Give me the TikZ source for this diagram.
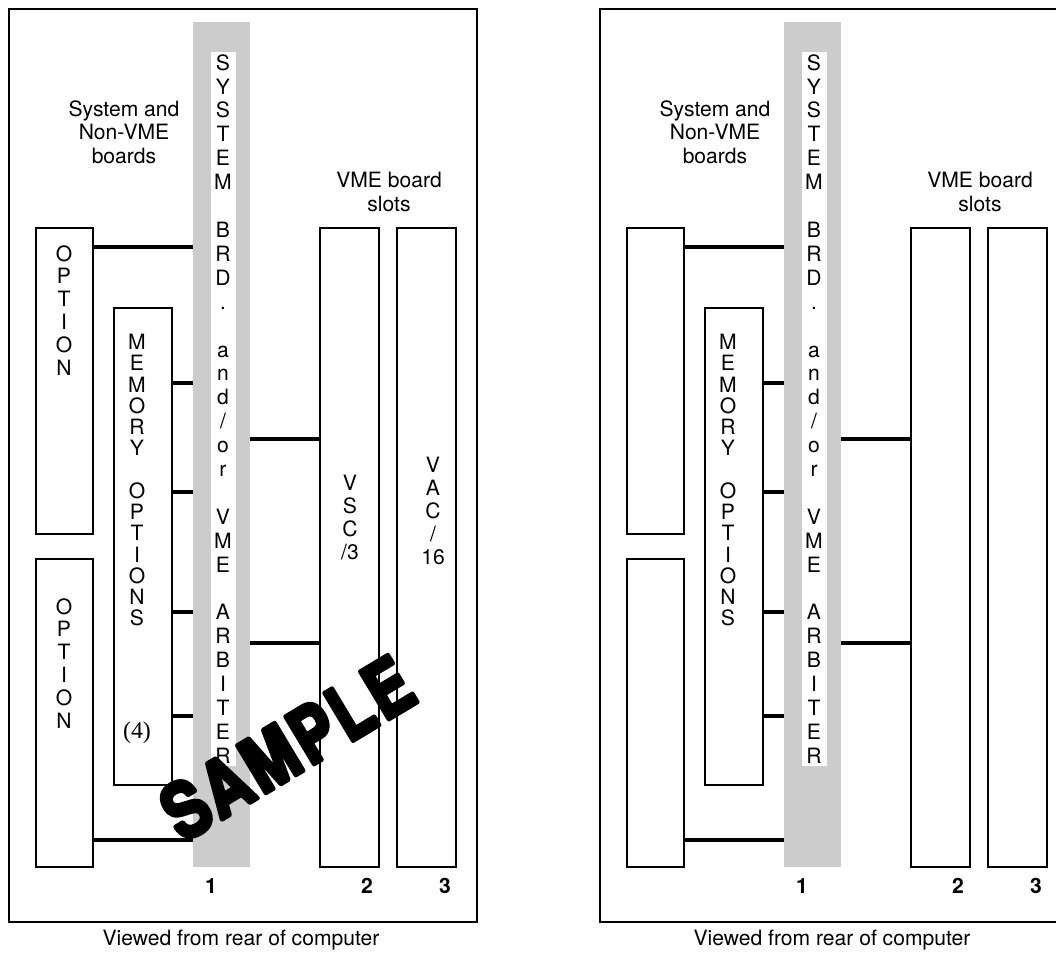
\documentclass[tikz,border=0pt]{standalone}
\usepackage{fontspec}
\setmainfont{TeX Gyre Heros}
\newfontfamily\numfont{Liberation Serif}
\newfontfamily\stampfont{texgyreheros-bold.otf}[FakeBold=6, LetterSpace=6]
\usepackage{tikz}
\usetikzlibrary{fit}

% one rear view of the card cage, #1 = prefix of the node names
\newcommand{\rackview}[1]{%
  \node[frame, fit={(9,9) (477,922)}] (#1frame) {};
  \node[bus, fit={(193,22) (250,867)}] (#1bus) {};
  \node[stack, fill=white, minimum width=0.625cm, inner ysep=1.5pt, anchor=north,
        font=\fontsize{15}{17}\selectfont] (#1busname) at (223,52)
    {S\\Y\\S\\T\\E\\M\\~\\B\\R\\D\\.\\~\\a\\n\\d\\/\\o\\r\\~\\V\\M\\E\\~\\A\\R\\B\\I\\T\\E\\R};
  \node[board, fit={(36,228) (93,534)}] (#1optA) {};
  \node[board, fit={(36,559) (93,867)}] (#1optB) {};
  \node[board, fit={(114,308) (172,785)}] (#1mem) {};
  \node[board, fit={(320,228) (379,867)}] (#1slotA) {};
  \node[board, fit={(397,228) (456,867)}] (#1slotB) {};
  \node[stack, anchor=north, font=\fontsize{15}{15.1}\selectfont] (#1memname) at (137,334)
    {M\\E\\M\\O\\R\\Y\\~\\O\\P\\T\\I\\O\\N\\S};
  \node[caption, anchor=north] (#1sysname) at (124,100) {System and\\Non-VME\\boards};
  \node[caption, anchor=north] (#1vmename) at (389,172) {VME board\\slots};
  \node[slotnum, anchor=base] (#1numA) at (211,893) {1};
  \node[slotnum, anchor=base] (#1numB) at (367,893) {2};
  \node[slotnum, anchor=base] (#1numC) at (445,893) {3};
  \node[caption, anchor=base] (#1view) at (241,945) {Viewed from rear of computer};
  % connectors to the system board
  \draw[link] (#1optA.east |- 0,247) -- (#1bus.west |- 0,247);
  \draw[link] (#1optB.east |- 0,840) -- (#1bus.west |- 0,840);
  \foreach \y in {383,492,612,716}
    \draw[link] (#1mem.east |- 0,\y) -- (#1bus.west |- 0,\y);
  \foreach \y in {439,643}
    \draw[link] (#1bus.east |- 0,\y) -- (#1slotA.west |- 0,\y);
}

\begin{document}
\begin{tikzpicture}[x=0.025cm, y=-0.025cm,
    frame/.style={draw, line width=2.1pt, inner sep=0pt},
    board/.style={draw, line width=1.8pt, inner sep=0pt},
    bus/.style={fill=black!20, inner sep=0pt},
    link/.style={line width=3pt},
    stack/.style={font=\fontsize{15}{16.3}\selectfont, align=center, inner sep=0pt},
    caption/.style={font=\fontsize{15}{16.7}\selectfont, align=center, inner sep=0pt},
    slotnum/.style={font=\bfseries\fontsize{15}{17}\selectfont, inner sep=0pt},
    stamp/.style={font=\stampfont\fontsize{54}{58}\selectfont, inner sep=0pt, line join=round}
]
\useasboundingbox (0,0) rectangle (1056,953);
\clip (0,0) rectangle (1056,953);

% left view, with labels
\rackview{L}
\node[stack, anchor=north] (LoptAname) at (64,245) {O\\P\\T\\I\\O\\N};
\node[stack, anchor=north] (LoptBname) at (64,598) {O\\P\\T\\I\\O\\N};
\node[inner sep=0pt, font=\numfont\fontsize{17}{19}\selectfont] (Lmemcount) at (137,733) {(4)};
\node[stack, anchor=north] (LslotAname) at (350,475) {V\\S\\C\\/3};
\node[stack, anchor=north] (LslotBname) at (433,457) {V\\A\\C\\/\\16};
\node[stamp, rotate=31, xscale=0.82] (sample) at (287,748) {SAMPLE};

% right view, blank
\begin{scope}[shift={(591,0)}]
\rackview{R}
\end{scope}
\end{tikzpicture}
\end{document}
